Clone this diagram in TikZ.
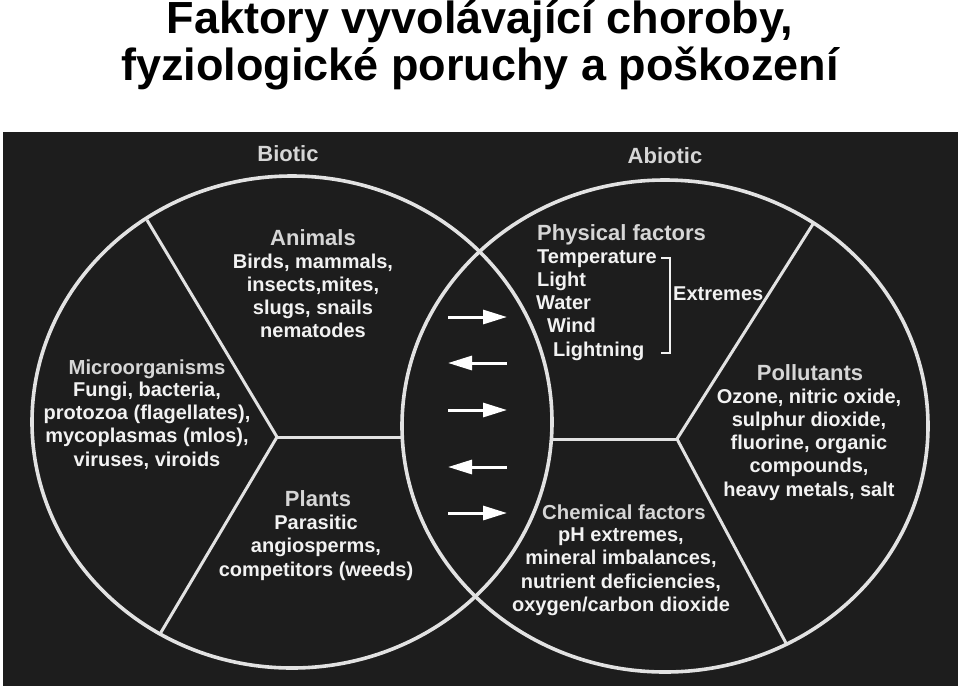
\documentclass[tikz,border=0pt]{standalone}
\usepackage{fontspec}
\setmainfont{Liberation Sans}
\usetikzlibrary{arrows.meta}
\definecolor{bg}{HTML}{1D1D1D}
\definecolor{linec}{HTML}{E2E2E2}
\definecolor{headc}{HTML}{D6D6D6}
\definecolor{bodyc}{HTML}{F2F2F2}
\begin{document}
\begin{tikzpicture}[x=1pt,y=-1pt,
  title/.style={inner sep=0pt,anchor=base,font=\fontsize{45}{50}\selectfont\bfseries,text=black},
  head/.style={inner sep=0pt,anchor=base,font=\fontsize{22}{26}\selectfont\bfseries,text=headc},
  heads/.style={inner sep=0pt,anchor=base,font=\fontsize{20.3}{24}\selectfont\bfseries,text=headc},
  body/.style={inner sep=0pt,anchor=base,font=\fontsize{20}{23}\selectfont\bfseries,text=bodyc},
  ring/.style={draw=linec,line width=3.6pt},
  divider/.style={draw=linec,line width=3pt},
  arr/.style={draw=white,line width=3pt,-{Triangle[length=24pt,width=14pt]}},
  brk/.style={draw=bodyc,line width=2.5pt}]
\useasboundingbox (0,0) rectangle (960,689);
\fill[white] (0,0) rectangle (960,689);
% title
\node[title] (t1) at (480,33) {Faktory vyvolávající choroby,};
\node[title] (t2) at (480,80) {fyziologické poruchy a poškození};
% panel
\fill[bg] (3,132) rectangle (958,686);
% circles
\coordinate (L) at (292,422);
\coordinate (R) at (665,426);
\draw[ring] (L) ellipse [x radius=260pt, y radius=246pt];
\draw[ring] (R) ellipse [x radius=263pt, y radius=246pt];
% dividers left
\coordinate (jl) at (277,437);
\coordinate (lu) at (147,220);
\coordinate (ld) at (160,634);
\coordinate (lh) at (402,437);
\draw[divider] (lu) -- (jl) -- (ld);
\draw[divider] (jl) -- (lh);
% dividers right
\coordinate (jr) at (677,439);
\coordinate (ru) at (813,224);
\coordinate (rd) at (787,645);
\coordinate (rh) at (552,439);
\draw[divider] (ru) -- (jr) -- (rd);
\draw[divider] (jr) -- (rh);
% arrows
\foreach \yy/\dir [count=\i] in {317/1,363/-1,410/1,467/-1,513/1}{
  \coordinate (aw\i) at (448,\yy);
  \coordinate (ae\i) at (507,\yy);
  \ifnum\dir=1 \draw[arr] (aw\i) -- (ae\i); \else \draw[arr] (ae\i) -- (aw\i); \fi
}
% top labels
\node[head] (biotic) at (288,161) {Biotic};
\node[head] (abiotic) at (665,163) {Abiotic};
% Animals
\node[head] (animals) at (313,245) {Animals};
\foreach \t [count=\i] in {{Birds, mammals,},{insects,mites,},{slugs, snails},{nematodes}}
  \node[body] (an\i) at (313,{245+23*\i}) {\t};
% Microorganisms
\node[heads] (micro) at (147,374) {Microorganisms};
\foreach \t [count=\i] in {{Fungi, bacteria,},{protozoa (flagellates),},{mycoplasmas (mlos),},{viruses, viroids}}
  \node[body] (mi\i) at (147,{373+23.3*\i}) {\t};
% Plants
\node[head] (plants) at (318,506) {Plants};
\foreach \t [count=\i] in {{Parasitic},{angiosperms,},{competitors (weeds)}}
  \node[body] (pl\i) at (316,{506+23.4*\i}) {\t};
% Physical factors
\node[head,anchor=base west] (phys) at (537,240) {Physical factors};
\node[body,anchor=base west] (ph1) at (537,263) {Temperature};
\node[body,anchor=base west] (ph2) at (537,286) {Light};
\node[body,anchor=base west] (ph3) at (536,309) {Water};
\node[body,anchor=base west] (ph4) at (547,332) {Wind};
\node[body,anchor=base west] (ph5) at (553,356) {Lightning};
\coordinate (b1) at (661,258);
\coordinate (b2) at (670,258);
\coordinate (b3) at (670,353);
\coordinate (b4) at (661,353);
\draw[brk] (b1) -- (b2) -- (b3) -- (b4);
\node[body,anchor=base west] (extr) at (673,300) {Extremes};
% Pollutants
\node[head] (poll) at (810,380) {Pollutants};
\foreach \t [count=\i] in {{Ozone, nitric oxide,},{sulphur dioxide,},{fluorine, organic},{compounds,},{heavy metals, salt}}
  \node[body] (po\i) at (809,{380+23.2*\i}) {\t};
% Chemical factors
\node[heads] (chem) at (624,519) {Chemical factors};
\foreach \t [count=\i] in {{pH extremes,},{mineral imbalances,},{nutrient deficiencies,},{oxygen/carbon dioxide}}
  \node[body] (ch\i) at (621,{518+23.4*\i}) {\t};
\end{tikzpicture}
\end{document}
